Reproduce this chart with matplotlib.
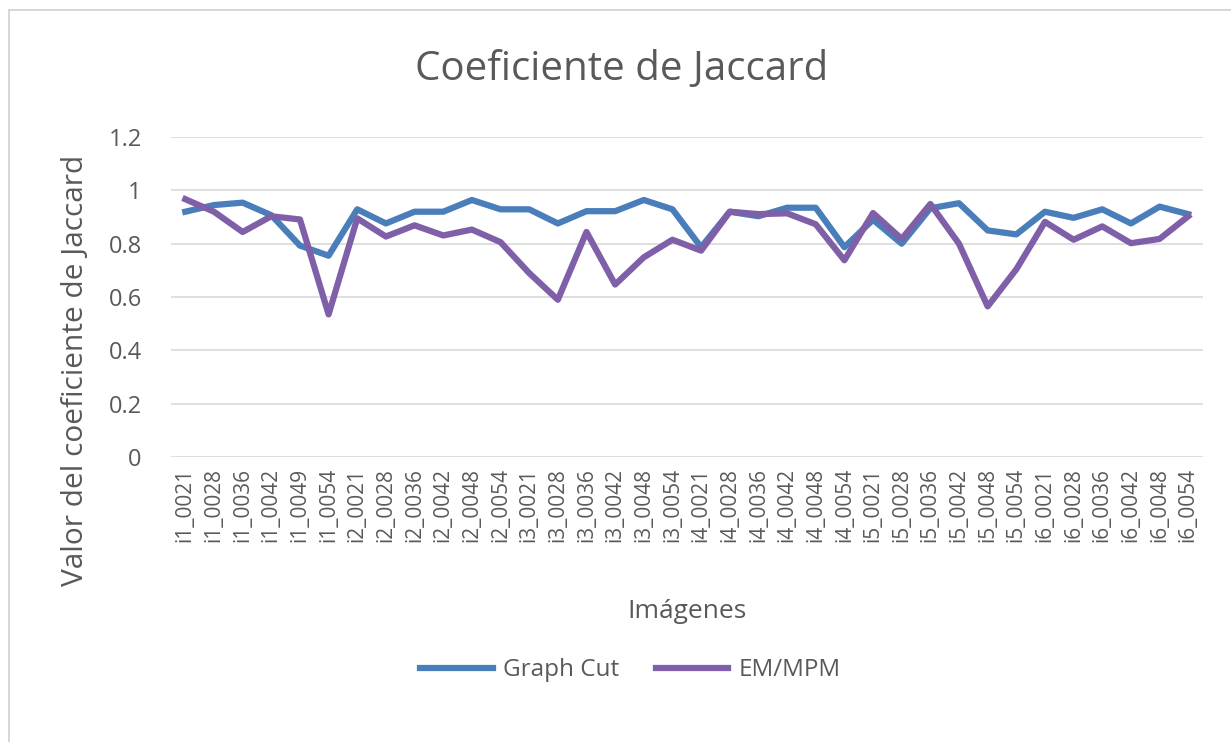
import matplotlib
matplotlib.use("Agg")
import matplotlib.pyplot as plt
from matplotlib.lines import Line2D
from matplotlib.patches import Rectangle

# image labels
grupos = ["i1", "i2", "i3", "i4", "i5", "i6"]
sufijos_i1 = ["0021", "0028", "0036", "0042", "0049", "0054"]
sufijos = ["0021", "0028", "0036", "0042", "0048", "0054"]
imagenes = [f"i1_{s}" for s in sufijos_i1] + [f"{g}_{s}" for g in grupos[1:] for s in sufijos]

graph_cut = [0.92, 0.945, 0.954, 0.907, 0.793, 0.755,
             0.929, 0.876, 0.92, 0.92, 0.964, 0.929,
             0.929, 0.876, 0.922, 0.922, 0.964, 0.929,
             0.787, 0.92, 0.903, 0.935, 0.935, 0.787,
             0.89, 0.80, 0.933, 0.952, 0.85, 0.835,
             0.92, 0.897, 0.929, 0.876, 0.939, 0.911]
em_mpm = [0.967, 0.92, 0.844, 0.903, 0.891, 0.535,
          0.895, 0.827, 0.869, 0.831, 0.853, 0.806,
          0.69, 0.59, 0.844, 0.647, 0.749, 0.815,
          0.774, 0.92, 0.911, 0.914, 0.873, 0.738,
          0.915, 0.818, 0.949, 0.80, 0.565, 0.704,
          0.882, 0.815, 0.865, 0.802, 0.818, 0.903]

azul = "#4a7ebb"
morado = "#7f5fa8"
gris_texto = "#595959"
fuente = "Open Sans"

fig = plt.figure(figsize=(12.31, 7.42), dpi=100)
fig.patches.append(Rectangle((0.007, -0.01), 1.2, 0.997, transform=fig.transFigure,
                             fill=False, edgecolor="#d0d0d0", linewidth=1.2))

ax = fig.add_axes([0.1389, 0.384, 0.838, 0.4313])
x = range(len(imagenes))
ax.plot(x, graph_cut, color=azul, linewidth=4.5, solid_joinstyle="round", label="Graph Cut")
ax.plot(x, em_mpm, color=morado, linewidth=4.5, solid_joinstyle="round", label="EM/MPM")

ax.set_xlim(-0.5, len(imagenes) - 0.5)
ax.set_ylim(0, 1.2)
ax.set_yticks([0, 0.2, 0.4, 0.6, 0.8, 1.0, 1.2])
ax.set_yticklabels(["0", "0.2", "0.4", "0.6", "0.8", "1", "1.2"])
ax.set_xticks(list(x))
ax.set_xticklabels(imagenes, rotation=90)
ax.grid(axis="y", color="#d9d9d9", linewidth=1.2)
ax.set_axisbelow(True)
for s in ax.spines.values():
    s.set_visible(False)
ax.tick_params(length=0, labelsize=15, colors=gris_texto, pad=8)
for t in ax.get_xticklabels() + ax.get_yticklabels():
    t.set_fontfamily(fuente)
ax.tick_params(axis="y", pad=21, labelsize=17)

fig.text(0.505, 0.906, "Coeficiente de Jaccard", fontsize=29, color=gris_texto,
         family=fuente, ha="center", va="center")
ax.set_xlabel("Imágenes", fontsize=19, color=gris_texto, family=fuente, va="center")
ax.xaxis.set_label_coords(0.5, -0.484)
ax.set_ylabel("Valor del coeficiente de Jaccard", fontsize=21.5, color=gris_texto,
              family=fuente, va="center")
ax.yaxis.set_label_coords(-0.093, 0.272)

handles = [Line2D([], [], color=azul, linewidth=4.5), Line2D([], [], color=morado, linewidth=4.5)]
fig.legend(handles, ["Graph Cut", "EM/MPM"], loc="center", bbox_to_anchor=(0.512, 0.097),
           ncol=2, frameon=False, handlelength=3.0, handletextpad=0.4, columnspacing=1.5,
           prop={"family": fuente, "size": 17.5}, labelcolor=gris_texto)

fig.savefig("out.png", dpi=100, facecolor="white")
